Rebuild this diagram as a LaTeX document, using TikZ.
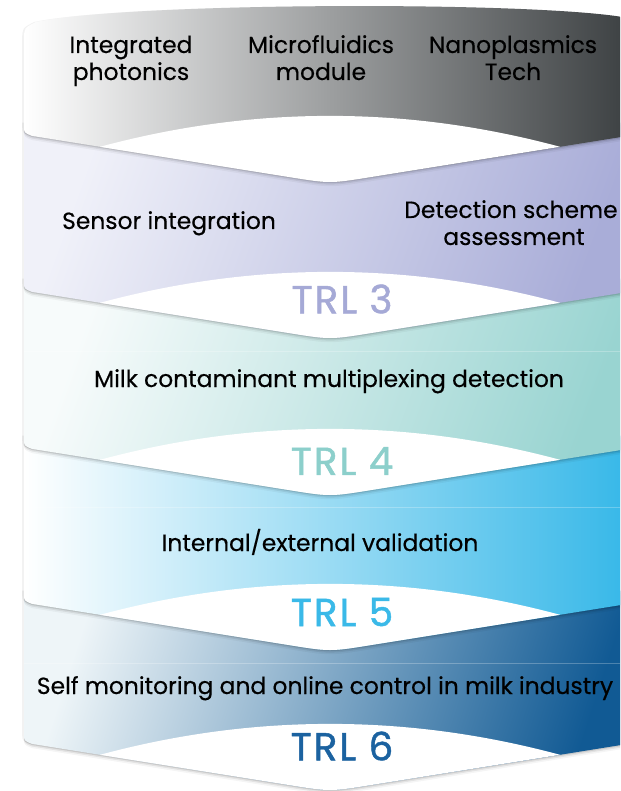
\documentclass[tikz,border=0pt]{standalone}
\usepackage{fontspec}
\setmainfont{Poppins}[FakeBold=0.3]
\newfontfamily\bodyfont[FakeBold=0.35]{Poppins}
\newfontfamily\trlfont[LetterSpace=5,FakeBold=1.2]{Poppins}
\definecolor{gA}{HTML}{FFFFFF}
\definecolor{gM}{HTML}{A9ABAA}
\definecolor{gB}{HTML}{3A3E40}
\definecolor{lA}{HTML}{F0F1F9}
\definecolor{lM}{HTML}{CFD1EA}
\definecolor{lB}{HTML}{A9ADD8}
\definecolor{tA}{HTML}{F7FBFB}
\definecolor{tM}{HTML}{C6E7E6}
\definecolor{tB}{HTML}{99D4D1}
\definecolor{bA}{HTML}{FFFFFF}
\definecolor{bM}{HTML}{A2DBF2}
\definecolor{bB}{HTML}{34B7E8}
\definecolor{dA}{HTML}{EEF5F8}
\definecolor{dM}{HTML}{78A9C7}
\definecolor{dB}{HTML}{115A94}
\definecolor{trlthree}{HTML}{A5A9D6}
\definecolor{trlfour}{HTML}{8CCFCB}
\definecolor{trlfive}{HTML}{3AB9E8}
\definecolor{trlsix}{HTML}{1B62A0}
\newcommand\bandpath[2]{(24,#1) -- (24,#2-8) .. controls (24,#2-2) .. (32,#2+1.3) -- (290,#2+42.6) .. controls (330,#2+49) .. (370,#2+42.6) -- (636,#2) -- (636,#1) -- cycle}
\newcommand\topbandpath[1]{(24,40) .. controls (24,28) .. (36,22) .. controls (130,2) and (540,1) .. (628,18) .. controls (636,24) .. (636,40) -- (636,#1) -- (370,#1+42.6) .. controls (330,#1+49) .. (290,#1+42.6) -- (32,#1+1.3) .. controls (24,#1-2) .. (24,#1-8) -- cycle}
\newcommand\lenspath[1]{(100,#1+12.2) .. controls (253,#1-29) and (407,#1-29) .. (560,#1+12.2) -- (370,#1+42.6) .. controls (330,#1+49) .. (290,#1+42.6) -- cycle}
\tikzset{
  shadeA/.style={fill=black,opacity=0.10,yshift=-1.2pt},
  shadeB/.style={fill=black,opacity=0.07,yshift=-2.6pt},
  shadeC/.style={fill=black,opacity=0.04,yshift=-4.2pt},
  shadeL/.style={fill=black,opacity=0.05,xshift=-1.8pt},
  bodytext/.style={font=\bodyfont\fontsize{23.4}{27}\selectfont, text=black, inner sep=0pt, anchor=base},
  trltext/.style={font=\trlfont\fontsize{39}{39}\selectfont, inner sep=0pt, anchor=center},
  faint/.style={draw=white, opacity=0.25, line width=0.8pt}
}
\begin{document}
\begin{tikzpicture}[x=1pt,y=-1pt]
\useasboundingbox (0,0) rectangle (620,791);
\fill[white] (0,0) rectangle (620,791);
\begin{scope}
\clip (0,0) rectangle (620,791);
% ---- band 5 (dark blue)
\foreach \s in {shadeA,shadeB,shadeC,shadeL} {\path[\s] \bandpath{590.6}{742.6};}
\shade[left color=dA, middle color=dM, right color=dB, shading angle=72] \bandpath{590.6}{742.6};
\draw[faint] (24,663) -- (636,663);
\fill[white] \lenspath{742.6};
% ---- band 4 (blue)
\foreach \s in {shadeA,shadeB,shadeC,shadeL} {\path[\s] \bandpath{435.6}{602.6};}
\shade[left color=bA, middle color=bM, right color=bB] \bandpath{435.6}{602.6};
\draw[faint] (24,507) -- (636,507);
\fill[white] \lenspath{602.6};
% ---- band 3 (teal)
\foreach \s in {shadeA,shadeB,shadeC,shadeL} {\path[\s] \bandpath{278.6}{447.6};}
\shade[left color=tA, middle color=tM, right color=tB, shading angle=70] \bandpath{278.6}{447.6};
\draw[faint] (24,351) -- (636,351);
\fill[white] \lenspath{447.6};
% ---- band 2 (lavender)
\foreach \s in {shadeA,shadeB,shadeC,shadeL} {\path[\s] \bandpath{122.6}{290.6};}
\shade[left color=lA, middle color=lM, right color=lB, shading angle=70] \bandpath{122.6}{290.6};
\fill[white] \lenspath{290.6};
% ---- band 1 (grey)
\foreach \s in {shadeA,shadeB,shadeC,shadeL} {\path[\s] \topbandpath{134.6};}
\shade[left color=gA, middle color=gM, right color=gB] \topbandpath{134.6};
\fill[white] \lenspath{134.6};
\end{scope}
% ---- texts
\node[bodytext] (ip1) at (131,53) {Integrated};
\node[bodytext] (ip2) at (131,80) {photonics};
\node[bodytext] (mf1) at (321,53) {Microfluidics};
\node[bodytext] (mf2) at (321,80) {module};
\node[bodytext] (np1) at (513,53) {Nanoplasmics};
\node[bodytext] (np2) at (513,80) {Tech};
\node[bodytext] (si) at (169,229) {Sensor integration};
\node[bodytext] (ds1) at (511,218) {Detection scheme};
\node[bodytext] (ds2) at (514,245) {assessment};
\node[trltext, text=trlthree] (trl3) at (342,299) {TRL 3};
\node[bodytext] (mc) at (329,387) {Milk contaminant multiplexing detection};
\node[trltext, text=trlfour] (trl4) at (342,461) {TRL 4};
\node[bodytext] (iev) at (320,551) {Internal/external validation};
\node[trltext, text=trlfive] (trl5) at (342,612) {TRL 5};
\node[bodytext] (smo) at (325,694) {Self monitoring and online control in milk industry};
\node[trltext, text=trlsix] (trl6) at (342,746) {TRL 6};
\end{tikzpicture}
\end{document}
